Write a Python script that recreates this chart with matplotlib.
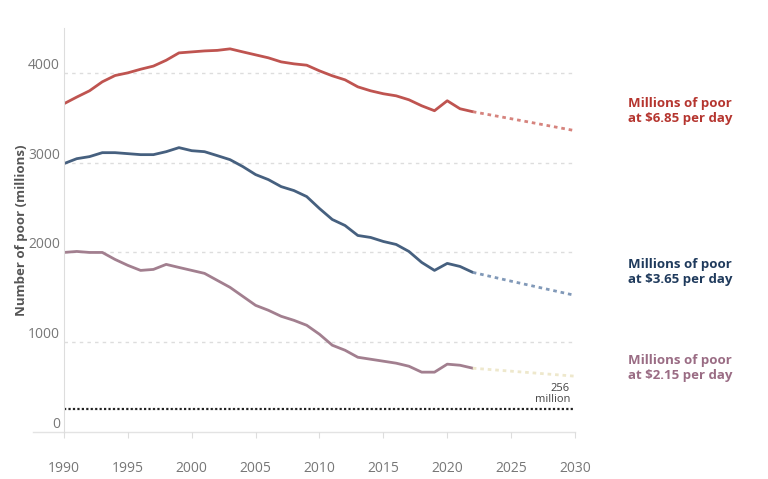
import matplotlib
matplotlib.use('Agg')
import matplotlib.pyplot as plt

plt.rcParams['font.family'] = ['Open Sans', 'DejaVu Sans']

years = list(range(1990, 2023))

poor_685 = [3656, 3730, 3800, 3900, 3970, 4000, 4040, 4075, 4140, 4222, 4233, 4244,
            4250, 4267, 4233, 4200, 4167, 4122, 4100, 4085, 4022, 3967, 3922, 3844,
            3800, 3767, 3744, 3700, 3633, 3578, 3689, 3600, 3567]
poor_365 = [2989, 3044, 3067, 3111, 3111, 3100, 3089, 3089, 3122, 3167, 3133, 3122,
            3078, 3033, 2956, 2867, 2811, 2733, 2689, 2622, 2489, 2367, 2300, 2189,
            2167, 2122, 2089, 2011, 1889, 1800, 1878, 1844, 1778]
poor_215 = [2000, 2011, 2000, 2000, 1922, 1856, 1800, 1811, 1867, 1833, 1800, 1767,
            1689, 1611, 1511, 1411, 1356, 1289, 1244, 1189, 1089, 967, 911, 833,
            811, 789, 767, 733, 667, 667, 756, 744, 711]

proj_years = [2022, 2025, 2030]
proj_685 = [3567, 3489, 3356]
proj_365 = [1778, 1680, 1522]
proj_215 = [711, 678, 622]

extreme_line = 256
x_ticks = [1990, 1995, 2000, 2005, 2010, 2015, 2020, 2025, 2030]
y_ticks = [0, 1000, 2000, 3000, 4000]

red = '#bf5450'
blue = '#46607f'
mauve = '#a27f8f'
grey = '#777777'

fig = plt.figure(figsize=(7.68, 4.79), dpi=100)
ax = fig.add_axes([0.0833, 0.098, 0.6654, 0.8437])

ax.plot(years, poor_685, color=red, lw=2.0, solid_joinstyle='round', solid_capstyle='round')
ax.plot(years, poor_365, color=blue, lw=2.0, solid_joinstyle='round', solid_capstyle='round')
ax.plot(years, poor_215, color=mauve, lw=2.0, solid_joinstyle='round', solid_capstyle='round')

ax.plot(proj_years, proj_685, color='#d6837d', lw=2.0, linestyle=(0, (1.3, 1.4)))
ax.plot(proj_years, proj_365, color='#8199b8', lw=2.0, linestyle=(0, (1.3, 1.4)))
ax.plot(proj_years, proj_215, color='#eee8cc', lw=2.0, linestyle=(0, (1.3, 1.4)))

ax.axhline(extreme_line, color='#222222', lw=1.6, linestyle=(0, (1, 1)))
ax.text(2029.6, extreme_line + 40, '256\nmillion', ha='right', va='bottom',
        fontsize=8, color='#444444', linespacing=1.1)

ax.set_xlim(1990, 2030)
ax.set_ylim(0, 4500)

# light dashed gridlines, solid baseline reaching past the axis
for y in y_ticks[1:]:
    ax.axhline(y, color='#dddddd', lw=1, linestyle=(0, (2.5, 3)), zorder=0)
ax.plot([-0.06, 1], [0, 0], transform=ax.get_yaxis_transform(), color='#e3e3e3',
        lw=1, clip_on=False, zorder=0)

ax.set_xticks(x_ticks)
ax.set_yticks(y_ticks)
ax.tick_params(axis='x', colors='#dddddd', length=4, pad=17, labelcolor=grey, labelsize=10)
ax.tick_params(axis='y', length=0, pad=3, labelcolor=grey, labelsize=10)
for lab in ax.get_yticklabels():
    lab.set_verticalalignment('bottom')

for side in ['top', 'right', 'bottom']:
    ax.spines[side].set_visible(False)
ax.spines['left'].set_color('#dddddd')

ax.set_ylabel('Number of poor (millions)', fontsize=9.5, fontweight='bold', color='#555555')
ax.yaxis.set_label_coords(-0.070, 0.5)

fig.text(628 / 768, 1 - 111 / 479, 'Millions of poor\nat $6.85 per day', ha='left', va='center',
         fontsize=9.5, fontweight='bold', color='#b5352f', linespacing=1.25)
fig.text(628 / 768, 1 - 272 / 479, 'Millions of poor\nat $3.65 per day', ha='left', va='center',
         fontsize=9.5, fontweight='bold', color='#1f3a5c', linespacing=1.25)
fig.text(628 / 768, 1 - 368 / 479, 'Millions of poor\nat $2.15 per day', ha='left', va='center',
         fontsize=9.5, fontweight='bold', color='#9a6c84', linespacing=1.25)

plt.savefig('out.png', dpi=100)
plt.close()
